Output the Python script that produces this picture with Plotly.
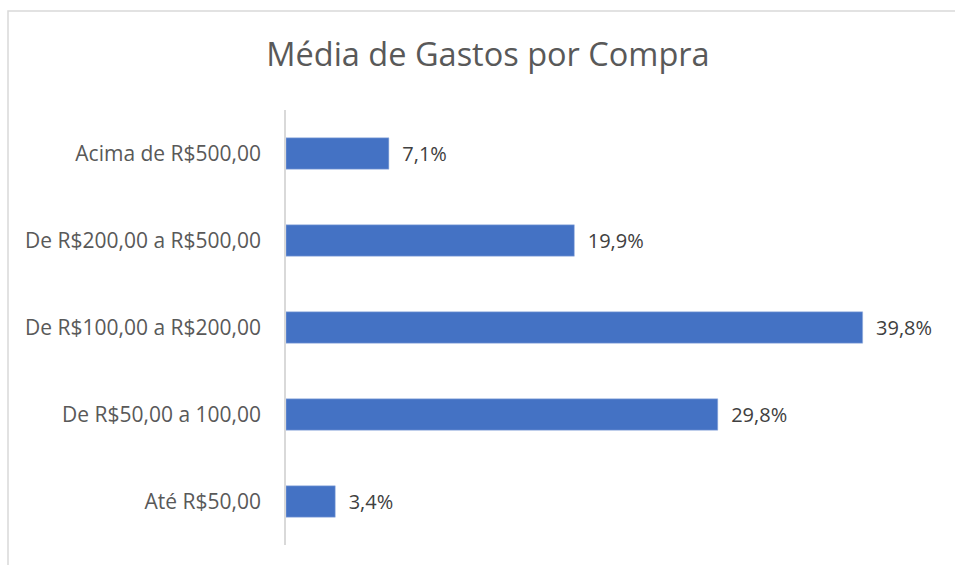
import plotly.graph_objects as go

categories = ["Até R$50,00", "De R$50,00 a 100,00", "De R$100,00 a R$200,00",
              "De R$200,00 a R$500,00", "Acima de R$500,00"]
values = [3.4, 29.8, 39.8, 19.9, 7.1]
title_text = "Média de Gastos por Compra"

L, R, T, B = 286, 17, 110, 20
W, H = 955, 565
pw = W - L - R
ph = H - T - B

fig = go.Figure(go.Bar(
    y=categories, x=values, orientation="h",
    marker=dict(color="#4472C4", line=dict(color="#9DB5E0", width=0.5)),
    width=0.36,
    texttemplate="\u00a0\u00a0%{x:.1f}%", textposition="outside",
    textfont=dict(family="Open Sans", size=20, color="#404040"),
    cliponaxis=False,
))

fig.update_layout(
    width=W, height=H,
    margin=dict(l=L, r=R, t=T, b=B),
    paper_bgcolor="white", plot_bgcolor="white",
    separators=",.",
    showlegend=False,
    title=dict(text=title_text, x=488 / W, xref="container", xanchor="center",
               y=1 - 55 / H, yref="container", yanchor="middle",
               font=dict(family="Open Sans", size=32.5, color="#595959")),
    xaxis=dict(range=[0, 45], visible=False, showgrid=False),
    yaxis=dict(showline=True, linecolor="#D9D9D9", linewidth=1.5,
               ticks="", ticklabelstandoff=19,
               tickfont=dict(family="Open Sans", size=21, color="#595959"),
               showgrid=False, zeroline=False),
    shapes=[dict(type="rect", xref="paper", yref="paper",
                 x0=(8 - L) / pw, x1=(W + 20 - L) / pw,
                 y0=(H - B - (H + 20)) / ph, y1=(H - B - 11) / ph,
                 line=dict(color="#D9D9D9", width=1.5), layer="below")],
)

fig.write_html("out.html")
